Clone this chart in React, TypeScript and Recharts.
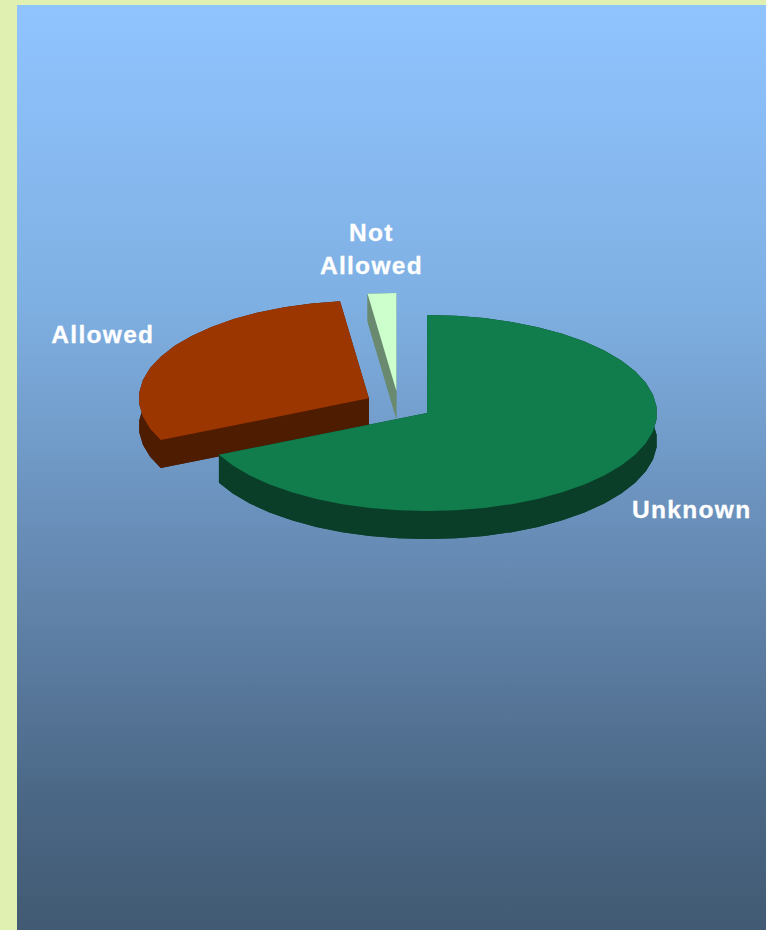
import { PieChart, Pie, Cell } from 'recharts';

const categories = ['Not Allowed', 'Allowed', 'Unknown'];
const shares = [2, 30, 68];

const topColors = ['#CCFFCC', '#9C3600', '#117C4C'];
const wallColors = ['#6A8A70', '#4E1C00', '#0A3E28'];

// [dx, dy] of each label from the rim point at the middle of its slice
const labelOffsets = [
  [-10.5, -52.5],
  [-64.5, -7.7],
  [70.5, 52.7],
];

const WIDTH = 766;
const HEIGHT = 930;
const RADIUS = 230;
const TILT = 98 / 230;
const DEPTH = 28;
const EXPLODE = 0.147;
const FACET = 7.2; // the rim is drawn as straight facets, in degrees
const RAD = Math.PI / 180;

const tableData = categories.map((name, i) => ({ name, value: shares[i] }));

// slice centre after pulling it away from the pie centre
function explodedCentre(cx: number, cy: number, r: number, midAngle: number) {
  return {
    x: cx + EXPLODE * r * Math.cos(midAngle * RAD),
    y: cy - EXPLODE * r * TILT * Math.sin(midAngle * RAD),
  };
}

function Slice(props: any) {
  const { cx, cy, outerRadius: r, startAngle, endAngle, midAngle, fill, payload, name } = props;
  const label = name ?? payload?.name;
  const wall = wallColors[categories.indexOf(label)];
  const c = explodedCentre(cx, cy, r, midAngle);
  const rim = (a: number, dy: number) =>
    `${c.x + r * Math.cos(a * RAD)},${c.y - r * TILT * Math.sin(a * RAD) + dy}`;

  const angles: number[] = [];
  for (let a = startAngle; a < endAngle - 0.01; a += FACET) angles.push(a);
  angles.push(endAngle);

  const topRim = angles.map((a) => rim(a, 0));
  const lowRim = angles.map((a) => rim(a, DEPTH));
  const first = angles[0];
  const last = endAngle;

  return (
    <g>
      <polygon points={[`${c.x},${c.y + DEPTH}`, ...lowRim].join(' ')} fill={wall} />
      <polygon
        points={`${c.x},${c.y} ${rim(first, 0)} ${rim(first, DEPTH)} ${c.x},${c.y + DEPTH}`}
        fill={wall}
      />
      <polygon
        points={`${c.x},${c.y} ${rim(last, 0)} ${rim(last, DEPTH)} ${c.x},${c.y + DEPTH}`}
        fill={wall}
      />
      <polygon points={[...topRim, ...[...lowRim].reverse()].join(' ')} fill={wall} />
      <polygon points={[`${c.x},${c.y}`, ...topRim].join(' ')} fill={fill} />
    </g>
  );
}

function SliceLabel(props: any) {
  const { cx, cy, outerRadius: r, midAngle, index } = props;
  const c = explodedCentre(cx, cy, r, midAngle);
  const x = c.x + r * Math.cos(midAngle * RAD) + labelOffsets[index][0];
  const y = c.y - r * TILT * Math.sin(midAngle * RAD) + labelOffsets[index][1];
  const lines = categories[index].split(' ');
  return (
    <text
      x={x}
      y={y}
      textAnchor="middle"
      fill="#FFFFFF"
      stroke="#FFFFFF"
      strokeWidth={0.3}
      fontFamily="'Liberation Sans', Arial, sans-serif"
      fontWeight={700}
      fontSize={24.5}
      letterSpacing={1.3}
    >
      {lines.map((line, i) => (
        <tspan key={line} x={x} dy={i === 0 ? 0 : 33.6}>
          {line}
        </tspan>
      ))}
    </text>
  );
}

export default function App() {
  return (
    <div
      style={{
        position: 'absolute',
        left: 0,
        top: 0,
        width: WIDTH,
        height: HEIGHT,
        overflow: 'hidden',
        background: '#E0F0B0',
      }}
    >
      <div
        style={{
          position: 'absolute',
          left: 17,
          top: 5,
          right: 0,
          bottom: 0,
          background:
            'linear-gradient(to bottom, #90C4FF 0%, #7FB0E3 32%, #5E7FA5 68%, #4A6785 86%, #425A73 100%)',
        }}
      />
      <div style={{ position: 'absolute', left: 0, top: 0 }}>
        <PieChart width={WIDTH} height={HEIGHT} margin={{ top: 0, right: 0, bottom: 0, left: 0 }}>
          <Pie
            data={tableData}
            dataKey="value"
            nameKey="name"
            cx={398.5}
            cy={405.3}
            outerRadius={RADIUS}
            startAngle={90}
            endAngle={450}
            stroke="none"
            isAnimationActive={false}
            shape={Slice}
            inactiveShape={Slice}
            label={SliceLabel}
            labelLine={false}
          >
            {tableData.map((d, i) => (
              <Cell key={d.name} fill={topColors[i]} />
            ))}
          </Pie>
        </PieChart>
      </div>
    </div>
  );
}
